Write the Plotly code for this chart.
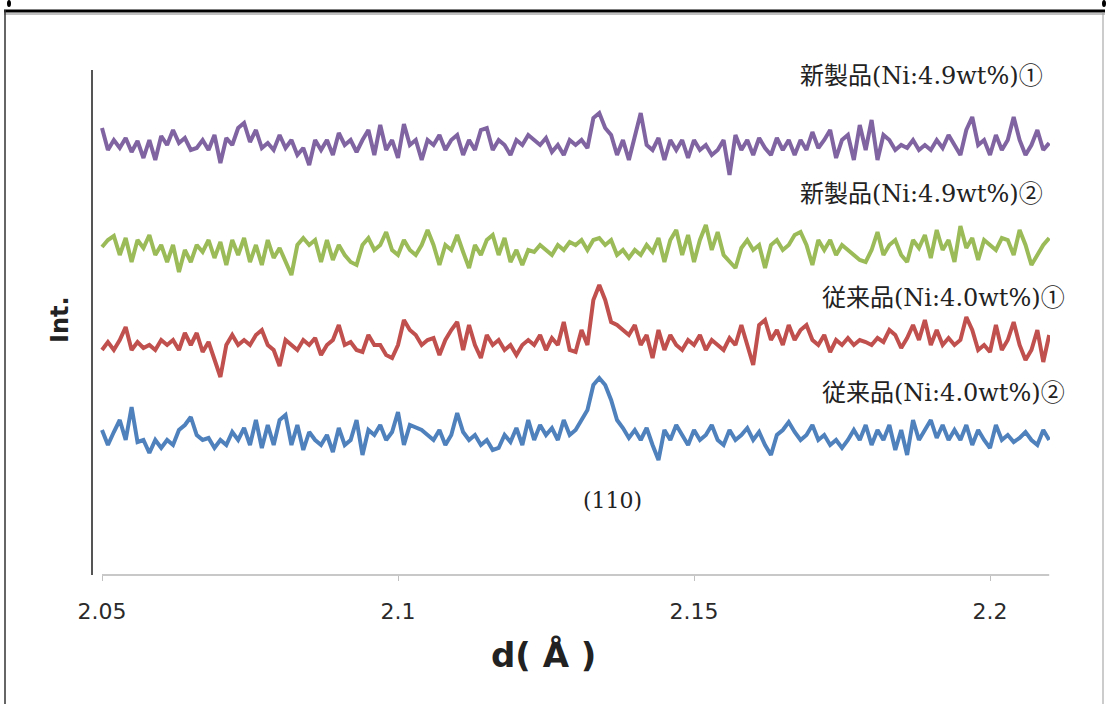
import plotly.graph_objects as go

# d-spacing grid (Å), 0.001 step from 2.05 to 2.21
d_start = 2.05
d_step = 0.001
n_points = 161
d_values = [round(d_start + i * d_step, 3) for i in range(n_points)]

# intensities (arbitrary units, offset traces)
new_1 = [472,450,460,452,462,448,459,442,460,440,
         464,455,470,457,462,450,452,460,450,465,
         437,462,455,472,477,458,470,452,457,450,
         465,452,460,445,452,435,460,450,460,445,
         467,455,460,448,460,470,445,475,450,460,
         442,476,455,460,440,460,455,465,450,460,
         465,445,460,450,470,472,450,460,455,445,
         460,455,465,460,455,462,448,455,445,460,
         455,460,452,482,487,472,465,445,460,440,
         465,487,455,450,462,440,460,450,460,442,
         460,450,455,445,450,460,425,465,450,460,
         445,462,452,445,462,450,460,445,460,450,
         468,452,460,470,442,460,465,440,475,450,
         480,440,465,460,450,455,452,460,450,455,
         450,460,452,465,455,445,470,483,455,460,
         445,465,450,460,483,460,445,455,470,450,
         457]

new_2 = [353,360,364,345,362,338,360,352,365,345,
         355,338,355,328,350,338,355,348,360,342,
         358,335,360,345,362,338,355,335,360,342,
         352,338,325,355,362,355,360,338,360,340,
         355,345,338,335,355,362,350,355,368,350,
         345,360,350,345,355,370,355,335,355,350,
         365,348,332,355,345,360,365,345,362,338,
         350,335,350,348,355,350,345,355,350,358,
         355,360,350,360,362,355,360,345,350,342,
         350,345,355,348,362,338,360,370,345,365,
         338,360,375,350,368,345,338,332,352,360,
         350,355,332,355,360,350,355,365,368,355,
         335,360,350,360,345,355,350,345,340,338,
         350,368,345,355,360,345,338,360,352,365,
         342,370,350,360,338,374,352,362,340,360,
         355,350,362,360,345,370,355,335,345,355,
         362]

old_1 = [250,258,250,260,273,250,258,252,255,250,
         260,255,260,250,267,255,267,248,258,240,
         223,255,265,255,260,255,265,270,255,250,
         234,260,255,250,260,255,262,245,255,260,
         275,255,258,250,248,265,255,255,245,242,
         255,280,270,265,255,260,262,245,260,270,
         278,250,275,255,242,265,255,260,250,255,
         245,255,260,255,265,250,262,255,278,250,
         248,270,255,300,315,300,278,275,270,265,
         275,255,265,242,270,250,265,255,250,260,
         255,265,250,260,255,250,262,255,275,255,
         235,275,280,260,270,255,275,260,270,275,
         260,255,265,248,260,255,262,255,260,258,
         255,262,258,270,265,252,262,275,260,280,
         255,270,255,262,255,260,283,270,250,255,
         248,275,250,260,278,255,240,250,270,238,
         265]

old_2 = [170,155,168,180,160,193,158,160,147,160,
         152,160,155,170,175,183,165,160,162,152,
         160,155,168,160,172,155,180,152,175,155,
         180,185,155,175,150,168,160,155,165,148,
         172,155,160,180,145,170,165,175,160,168,
         188,155,175,172,170,165,160,170,155,165,
         187,168,160,165,155,160,150,152,165,158,
         172,155,180,160,175,165,172,160,180,165,
         170,180,190,215,222,215,200,180,172,162,
         170,160,172,155,140,170,160,175,165,155,
         170,160,165,175,160,155,170,160,165,172,
         160,168,155,145,165,170,178,168,160,165,
         175,160,165,155,160,152,160,170,160,175,
         155,170,160,175,150,170,145,180,160,170,
         180,162,175,160,170,160,175,155,170,160,
         152,175,160,165,158,162,168,160,155,170,
         160]

series_names = ["新製品(Ni:4.9wt%)①", "新製品(Ni:4.9wt%)②",
                "従来品(Ni:4.0wt%)①", "従来品(Ni:4.0wt%)②"]
series_values = [new_1, new_2, old_1, old_2]
series_colors = ["#8064A2", "#9BBB59", "#C0504D", "#4F81BD"]

x_ticks = [2.05, 2.1, 2.15, 2.2]
x_tick_text = ["2.05", "2.1", "2.15", "2.2"]
peak_label = "(110)"

W, H = 1107, 704
L, R, T, B = 93, 57, 70, 129
pw, ph = W - L - R, H - T - B


def px(x):
    return (x - L) / pw


def py(y):
    return (H - B - y) / ph


fig = go.Figure()
for name, vals, col in zip(series_names, series_values, series_colors):
    fig.add_trace(go.Scatter(x=d_values, y=vals, mode="lines", name=name,
                             line=dict(color=col, width=4), showlegend=False))

label_font = dict(family="DejaVu Serif, Noto Sans CJK JP", size=24, color="#222222")
label_pos = [(1045, 76), (1045, 194), (1067, 298), (1067, 393)]
annotations = []
for name, (lx, ly) in zip(series_names, label_pos):
    annotations.append(dict(x=px(lx), y=py(ly), xref="paper", yref="paper",
                            text=name, showarrow=False, xanchor="right",
                            yanchor="middle", font=label_font))
annotations.append(dict(x=px(612), y=py(500), xref="paper", yref="paper",
                        text=peak_label, showarrow=False, xanchor="center",
                        yanchor="middle",
                        font=dict(family="DejaVu Serif", size=22, color="#222222")))
annotations.append(dict(x=px(543), y=py(655), xref="paper", yref="paper",
                        text="<b>d( Å )</b>", showarrow=False, xanchor="center",
                        yanchor="middle",
                        font=dict(family="DejaVu Sans", size=34, color="#222222")))
annotations.append(dict(x=px(60), y=py(320), xref="paper", yref="paper",
                        text="<b>Int.</b>", showarrow=False, textangle=-90,
                        xanchor="center", yanchor="middle",
                        font=dict(family="DejaVu Sans", size=24, color="#222222")))

shapes = [
    # x axis line
    dict(type="line", xref="x", yref="paper", x0=2.05, x1=2.21, y0=0, y1=0,
         line=dict(color="#c8c8c8", width=2)),
    # outer frame
    dict(type="line", xref="paper", yref="paper", x0=px(4), x1=px(1105),
         y0=py(11), y1=py(11), line=dict(color="#000000", width=3)),
    dict(type="line", xref="paper", yref="paper", x0=px(4), x1=px(1105),
         y0=py(14), y1=py(14), line=dict(color="#c0c0c0", width=2)),
    dict(type="line", xref="paper", yref="paper", x0=px(5), x1=px(5),
         y0=py(10), y1=py(704), line=dict(color="#333333", width=1.5)),
    dict(type="line", xref="paper", yref="paper", x0=px(1103), x1=px(1103),
         y0=py(12), y1=py(704), line=dict(color="#999999", width=1)),
    dict(type="circle", xref="paper", yref="paper", x0=px(7), x1=px(11),
         y0=py(0), y1=py(7), fillcolor="#000", line=dict(width=0)),
    dict(type="circle", xref="paper", yref="paper", x0=px(1102), x1=px(1106),
         y0=py(0), y1=py(7), fillcolor="#000", line=dict(width=0)),
]

fig.update_layout(
    width=W, height=H,
    margin=dict(l=L, r=R, t=T, b=B),
    paper_bgcolor="white", plot_bgcolor="white",
    annotations=annotations, shapes=shapes,
    xaxis=dict(range=[2.05 - 9 / 5920, 2.05 + 948 / 5920],
               tickvals=x_ticks, ticktext=x_tick_text,
               showgrid=False, zeroline=False, showline=False,
               ticks="outside", ticklen=5, tickcolor="#c0c0c0",
               ticklabelstandoff=12,
               tickfont=dict(family="DejaVu Sans", size=22, color="#2a2a2a")),
    yaxis=dict(range=[25, 530], showgrid=False, zeroline=False,
               showticklabels=False, ticks="",
               showline=True, linecolor="#555555", linewidth=2),
)

fig.write_html("out.html",
               config={"displayModeBar": False},
               post_script="document.body.style.margin='0';"
                           "document.body.style.overflow='hidden';")
